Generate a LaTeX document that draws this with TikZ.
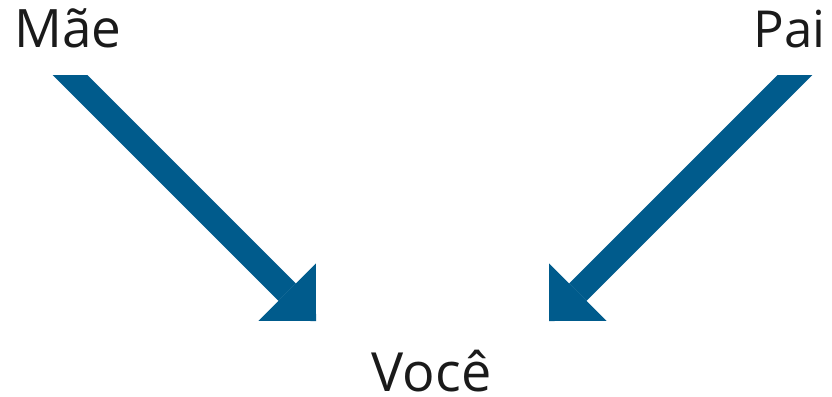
\documentclass[tikz,border=0pt]{standalone}
\usepackage{fontspec}
\setmainfont{Open Sans}
\usetikzlibrary{arrows.meta}
\definecolor{arrowblue}{RGB}{0,91,140}
\definecolor{textblack}{RGB}{26,26,26}
\tikzset{
  label text/.style={font=\fontsize{51}{51}\selectfont, text=textblack, inner sep=0pt, anchor=base},
  big arrow/.style={draw=arrowblue, line width=24.7pt,
    -{Triangle[length=40.7pt, width=81.3pt, line width=0pt, fill=arrowblue]}},
}
\begin{document}
\begin{tikzpicture}[x=1pt, y=-1pt]
  \useasboundingbox (0,0) rectangle (832,396);
  \node[label text, font=\fontsize{53}{53}\selectfont] (mae) at (68,48) {Mãe};
  \node[label text] (pai) at (789.5,48) {Pai};
  \node[label text, font=\fontsize{54}{54}\selectfont] (voce) at (431.5,391) {Você};
  \coordinate (maeStart) at (40,45);
  \coordinate (maeTip) at (316,321);
  \coordinate (paiStart) at (825,45);
  \coordinate (paiTip) at (549,321);
  \begin{scope}
    \clip (0,75) rectangle (832,396);
    \draw[big arrow] (maeStart) -- (maeTip);
    \draw[big arrow] (paiStart) -- (paiTip);
  \end{scope}
\end{tikzpicture}
\end{document}
